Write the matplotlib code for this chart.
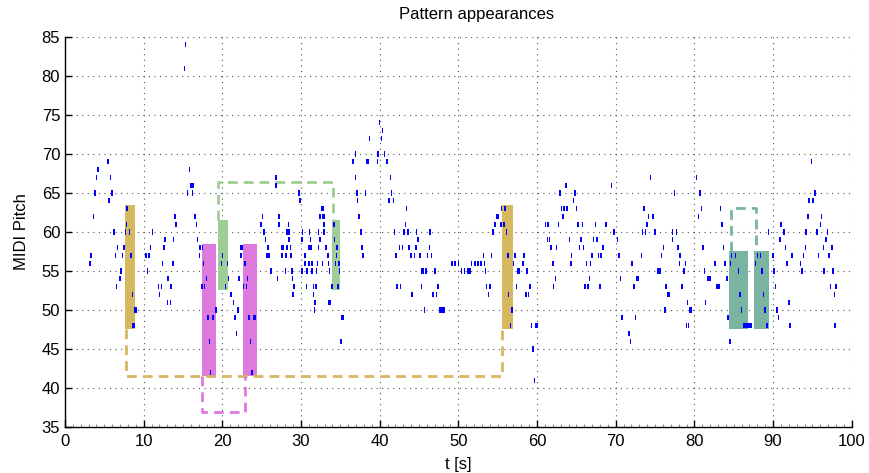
import matplotlib
matplotlib.use("Agg")
import matplotlib.pyplot as plt
from matplotlib.ticker import MultipleLocator

# ---------------- data ----------------
# note centre times (s) and MIDI pitches
note_time = [
    5.45, 4.17, 4.0, 5.8, 3.8, 6.0, 5.6, 3.6, 7.9, 7.8, 6.2, 7.7, 8.2, 6.7, 7.5, 3.3, 6.4, 7.3, 8.4, 3.15,
    7.1, 7.0, 6.55, 8.6, 9.0, 8.7,
    15.8, 16.0, 16.25, 15.6, 16.2, 14.0, 16.5, 14.1, 16.7, 11.1, 12.7, 13.8, 16.85, 10.85, 12.6, 17.15,
    10.3, 10.7, 17.1, 12.4, 13.7, 10.5, 13.1, 11.9, 12.25, 13.5, 12.0, 13.0, 13.4, 15.3, 15.2,
    26.8, 26.85, 29.75, 29.9, 32.6, 32.8, 32.4, 32.7, 32.9, 25.1, 27.2, 24.9, 27.2, 28.4, 32.9, 25.3,
    28.2, 28.5, 30.2, 31.1, 32.2, 32.9, 25.5, 28.5, 30.1, 31.2, 32.4,
    22.35, 22.55, 25.8, 27.6, 27.75, 28.2, 28.65, 31.0, 31.25, 32.2, 33.2, 17.5,
    20.05, 22.4, 25.7, 25.9, 27.6, 28.1, 28.7, 30.5, 33.4,
    17.6, 19.9, 20.65, 22.85, 30.5, 31.0, 31.4, 32.1, 32.7,
    26.2, 28.0, 28.85, 30.1, 30.75, 31.4, 32.0,
    18.0, 20.8, 22.1, 23.2, 27.0, 28.9,
    17.4, 17.75, 20.4, 22.7, 23.1, 29.1, 30.7, 31.6, 31.9,
    21.1, 29.0, 31.6, 21.4, 31.8, 33.6,
    19.2, 22.0, 31.7, 18.2, 18.8, 21.6, 23.4, 24.1,
    21.8, 18.35, 23.6, 18.5, 23.75,
    40.0, 40.35, 38.7, 40.2, 36.9, 39.8, 40.6, 36.6, 38.3, 38.5, 39.7, 40.9, 36.9, 41.4, 37.1, 38.2,
    41.5, 37.2, 41.2, 41.75, 43.4, 37.4, 43.25, 34.2, 37.6, 41.9, 43.1, 43.6, 44.7, 46.4, 34.25, 44.9,
    34.55, 37.75, 42.5, 42.9, 43.75, 44.6, 46.3,
    34.5, 37.9, 42.1, 44.0, 44.4, 45.1, 46.1, 46.6,
    33.5, 34.4, 34.8,
    33.6, 34.9, 45.4, 45.6, 45.9, 47.0,
    33.95, 34.7, 42.2, 42.65, 45.3, 47.4,
    33.6, 44.1, 46.8, 47.2, 45.7, 47.97, 35.25, 35.1,
    49.2, 49.6, 50.0, 51.7, 52.1, 52.5, 52.9, 53.3,
    50.4, 50.8, 51.2, 51.5, 53.45,
    63.7, 62.9, 64.8, 64.65, 55.5, 55.9, 63.1, 63.4, 63.8, 65.0, 55.0, 63.3, 54.65, 55.4, 55.8, 61.1,
    61.4, 62.7, 65.2, 65.75, 54.4, 56.1, 61.3, 61.6, 64.1, 65.6, 61.8, 62.5, 65.4, 65.9,
    53.2, 54.2, 56.3, 57.2, 58.35, 64.4, 67.0,
    57.0, 58.2, 62.0, 64.3, 66.3, 66.8,
    57.6, 58.7, 62.35, 66.7,
    53.6, 54.0, 57.4, 59.1, 62.1, 66.1, 66.5,
    53.85, 56.4, 58.6, 58.9,
    56.8, 56.6, 59.3, 59.9, 59.5, 59.7,
    74.4, 80.3, 69.45, 77.5, 80.7, 73.6, 80.9, 83.3, 74.2, 74.75, 80.5, 67.4, 68.75, 74.0, 83.5, 69.8,
    73.4, 73.8, 75.0, 77.2, 77.7, 67.2, 67.6, 70.2, 77.2, 68.4, 76.1, 77.9, 81.1,
    67.0, 67.8, 68.1, 70.4, 73.25, 75.85, 78.2, 66.8, 72.1, 78.1, 78.9, 82.6, 75.4, 75.6, 78.65, 81.3,
    66.65, 70.6, 72.8, 81.8, 66.4, 68.0, 72.3, 76.4, 78.4, 82.9, 76.7, 79.1, 81.4, 76.3, 79.5,
    70.8, 72.5, 79.0, 79.25, 71.7, 71.9,
    94.9, 95.3, 94.6, 95.1, 94.45, 96.15, 91.0, 96.0, 89.4, 91.4, 94.2, 95.6, 96.9, 90.9, 96.7,
    83.7, 91.55, 94.1, 96.4, 97.5, 84.7, 85.2, 88.0, 88.4, 90.0, 92.4, 93.9, 95.8, 97.1,
    83.9, 84.6, 87.8, 91.8, 93.5, 85.6, 88.6, 90.15, 93.7, 96.5, 97.6, 84.15, 83.1, 90.3, 97.3, 98.0,
    85.8, 88.8, 97.8, 92.0, 86.0, 89.0, 90.5, 84.3, 90.7, 86.75, 89.25, 92.15, 97.9, 84.5,
]
note_pitch = [
    69, 68, 67, 67, 65, 65, 64, 62, 63, 61, 60, 60, 60, 58, 58, 57, 57, 57, 57, 56,
    55, 54, 53, 52, 50, 48,
    68, 66, 66, 65, 65, 62, 62, 61, 61, 60, 59, 59, 59, 58, 58, 58,
    57, 57, 57, 56, 56, 55, 54, 53, 53, 53, 52, 51, 51, 84, 81,
    67, 66, 65, 64, 63, 63, 62, 62, 62, 62, 62, 61, 61, 61, 61, 60,
    60, 60, 60, 60, 60, 60, 59, 59, 59, 59, 59,
    58, 58, 58, 58, 58, 58, 58, 58, 58, 58, 58, 58,
    57, 57, 57, 57, 57, 57, 57, 57, 57,
    56, 56, 56, 56, 56, 56, 56, 56, 56,
    55, 55, 55, 55, 55, 55, 55,
    54, 54, 54, 54, 54, 54,
    53, 53, 53, 53, 53, 53, 53, 53, 53,
    52, 52, 52, 51, 51, 51,
    50, 50, 50, 49, 49, 49, 49, 49,
    47, 46, 46, 42, 42,
    74, 73, 72, 72, 70, 70, 70, 69, 69, 69, 69, 69, 67, 67, 65, 65,
    65, 64, 64, 64, 63, 62, 61, 61, 60, 60, 60, 60, 60, 60, 59, 59,
    58, 58, 58, 58, 58, 58, 58,
    57, 57, 57, 57, 57, 57, 57, 57,
    56, 56, 56,
    55, 55, 55, 55, 55, 55,
    53, 53, 53, 53, 53, 53,
    51, 52, 52, 52, 50, 50, 49, 46,
    56, 56, 56, 56, 56, 56, 56, 56,
    55, 55, 55, 55, 55,
    66, 65, 65, 64, 63, 63, 63, 63, 63, 63, 62, 62, 61, 61, 61, 61,
    61, 61, 61, 61, 60, 60, 59, 59, 59, 59, 58, 58, 58, 58,
    57, 57, 57, 57, 57, 57, 57,
    56, 56, 56, 56, 56, 56,
    55, 55, 54, 54,
    53, 53, 53, 53, 53, 53, 53,
    52, 52, 52, 52,
    50, 48, 48, 48, 45, 41,
    67, 67, 66, 65, 65, 63, 63, 63, 62, 62, 62, 61, 61, 61, 61, 60,
    60, 60, 60, 60, 60, 59, 59, 59, 59, 58, 58, 58, 58,
    57, 57, 57, 57, 57, 57, 57, 56, 56, 56, 56, 56, 55, 55, 55, 55,
    54, 54, 54, 54, 53, 53, 53, 53, 53, 53, 52, 51, 51, 50, 50,
    49, 49, 48, 48, 47, 46,
    69, 65, 64, 64, 62, 62, 61, 61, 60, 60, 60, 60, 60, 59, 59,
    58, 58, 58, 58, 58, 57, 57, 57, 57, 57, 57, 57, 57, 57,
    56, 56, 56, 56, 56, 55, 55, 55, 55, 55, 55, 54, 53, 53, 53, 53,
    52, 52, 52, 51, 50, 50, 50, 49, 49, 48, 48, 48, 48, 46,
]
# longer notes (centre time, pitch, duration); all others are short
long_time = [9.0, 8.7, 19.2, 24.1, 47.97, 35.25, 33.6, 55.0, 57.6, 59.9, 68.4, 72.8, 81.8, 82.9, 76.7, 76.3, 79.5, 86.75]
long_pitch = [50, 48, 50, 49, 50, 49, 51, 62, 55, 48, 58, 54, 54, 53, 52, 50, 50, 48]
long_dur = [0.4, 0.4, 0.35, 0.35, 0.75, 0.45, 0.3, 0.35, 0.35, 0.35, 0.35, 0.35, 0.5, 0.3, 0.3, 0.3, 0.3, 1.1]

# pattern occurrence boxes: start, end, low pitch, high pitch
box_start = [7.57, 55.5, 17.37, 22.65, 19.4, 33.97, 84.4, 87.6]
box_end = [8.94, 56.9, 19.16, 24.45, 20.7, 34.9, 86.85, 89.5]
box_low = [47.5, 47.5, 41.5, 41.5, 52.5, 52.5, 47.5, 47.5]
box_high = [63.5, 63.5, 58.5, 58.5, 61.5, 61.5, 57.5, 57.5]
box_pattern = [0, 0, 1, 1, 2, 2, 3, 3]

# bracket connectors per pattern: left x, right x, attach y, level y
br_left = [7.75, 17.45, 19.5, 84.6]
br_right = [55.6, 22.85, 34.1, 87.8]
br_attach = [47.5, 41.5, 61.5, 57.5]
br_level = [41.5, 36.9, 66.4, 63.1]

pattern_colors = ["#D6B860", "#DE7ADE", "#A0CC96", "#7AB4A0"]

# ---------------- plot ----------------
fam = ["Liberation Sans Narrow", "Liberation Sans", "DejaVu Sans"]
plt.rcParams["font.family"] = fam

fig = plt.figure(figsize=(8.7, 4.73), dpi=100)
ax = fig.add_axes([0.0747, 0.0973, 0.9043, 0.8245])

for s, e, lo, hi, k in zip(box_start, box_end, box_low, box_high, box_pattern):
    ax.bar(s, hi - lo, width=e - s, bottom=lo, align="edge",
           color=pattern_colors[k], edgecolor="none", zorder=2)

for k in range(len(br_left)):
    ax.plot([br_left[k], br_left[k], br_right[k], br_right[k]],
            [br_attach[k], br_level[k], br_level[k], br_attach[k]],
            color=pattern_colors[k], lw=2.0, dashes=(3.5, 2.2), zorder=2)

nh = 0.65
ax.bar(note_time, nh, width=0.19, bottom=[p - nh / 2 for p in note_pitch],
       color="#0000FF", edgecolor="none", zorder=3)
ax.bar(long_time, nh, width=long_dur, bottom=[p - nh / 2 for p in long_pitch],
       color="#0000FF", edgecolor="none", zorder=3)

ax.set_xlim(0, 100)
ax.set_ylim(35, 85)
ax.xaxis.set_major_locator(MultipleLocator(10))
ax.yaxis.set_major_locator(MultipleLocator(5))
ax.xaxis.set_minor_locator(MultipleLocator(1))
ax.grid(True, which="major", color="#555555", lw=0.8, linestyle=(0, (1, 4)))
ax.set_axisbelow(True)
for sp in ["top", "right"]:
    ax.spines[sp].set_visible(False)
ax.spines["left"].set_linewidth(1.0)
ax.spines["bottom"].set_linewidth(1.0)
ax.tick_params(axis="both", which="major", direction="in", length=5, width=1.0,
               labelsize=12, colors="black")
ax.tick_params(axis="x", which="major", pad=5)
ax.tick_params(axis="x", which="minor", direction="in", length=2.5, width=0.6, color="#777777")
ax.set_xlabel("t [s]", fontsize=12, labelpad=6)
ax.set_ylabel("MIDI Pitch", fontsize=12, labelpad=9)
ax.set_title("Pattern appearances", fontsize=12, pad=13, x=0.523)

fig.savefig("out.png", dpi=100)
